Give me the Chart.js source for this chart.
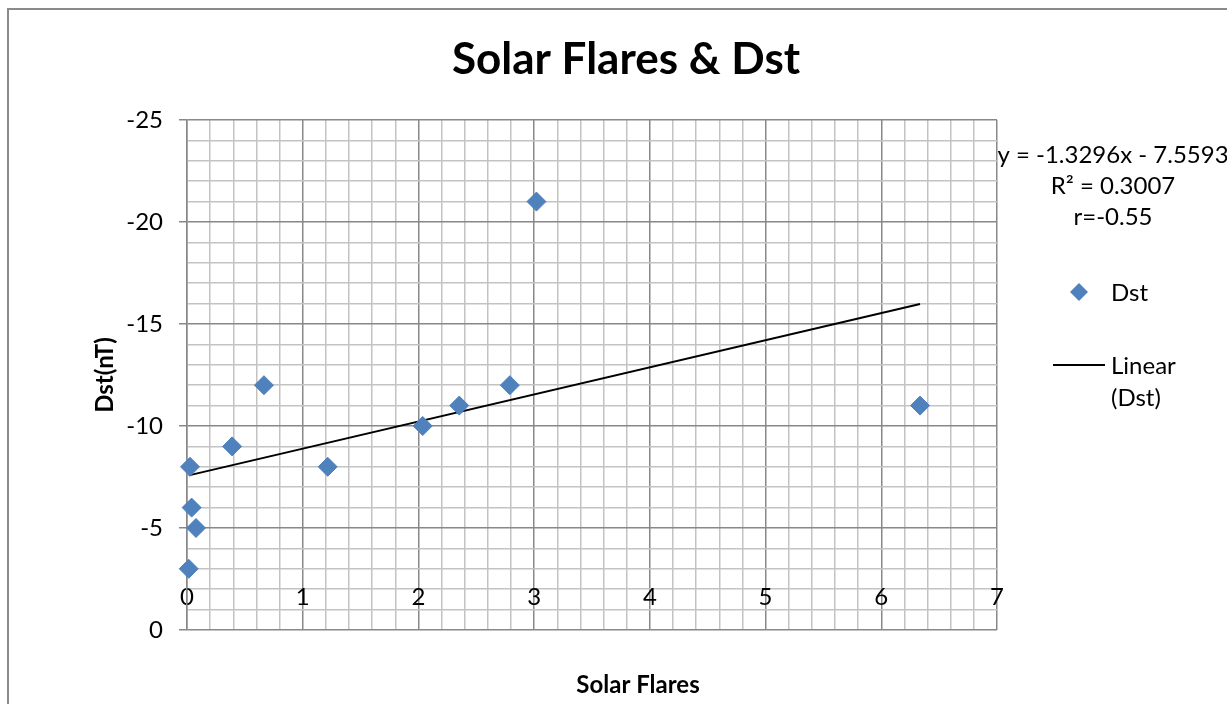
<!DOCTYPE html>
<html>
<head>
<meta charset="utf-8">
<title>Solar Flares & Dst</title>
<script src="https://cdn.jsdelivr.net/npm/chart.js@4.4.1/dist/chart.umd.min.js"></script>
<style>
  html, body { margin: 0; padding: 0; background: #ffffff; }
  #wrap { width: 1227px; height: 704px; position: relative; }
</style>
</head>
<body>
<div id="wrap"><canvas id="c" width="1227" height="704"></canvas></div>
<script>
// Observations: number of solar flares vs. Dst index (nT)
const flares = [0.015, 0.026, 0.04, 0.078, 0.39, 0.665, 1.216, 2.037, 2.353, 2.79, 3.02, 6.335];
const dst    = [-3, -8, -6, -5, -9, -12, -8, -10, -11, -12, -21, -11];

// Least-squares fit as reported on the chart
const fitSlope = -1.3296;
const fitIntercept = -7.5593;
const fitLines = ['y = -1.3296x - 7.5593', 'R\u00B2 = 0.3007', 'r=-0.55'];

// Text
const chartTitle = 'Solar Flares & Dst';
const xTitle = 'Solar Flares';
const yTitle = 'Dst(nT)';
const seriesName = 'Dst';
const trendName = ['Linear', '(Dst)'];

// Axis ranges and ticks
const xRange = [0, 7];
const xMinorStep = 0.2;
const yRange = [-25, 0];
const yMinorStep = 1;
const yMajorStep = 5;
const xAxisCrossesAt = -2;

const FONT = "Lato, 'Open Sans', 'DejaVu Sans', sans-serif";
const BLUE = '#4F81BD';
const MAJOR = '#888888';
const MINOR = '#C3C3C3';

const points = flares.map((x, i) => ({ x, y: dst[i] }));
const xLo = Math.min(...flares), xHi = Math.max(...flares);
const trend = [xLo, xHi].map(x => ({ x, y: fitSlope * x + fitIntercept }));

const isWhole = (v, step) => Math.abs(v / step - Math.round(v / step)) < 1e-6;

const decorations = {
  id: 'decorations',
  beforeDraw(chart) {
    const ctx = chart.ctx;
    ctx.save();
    ctx.fillStyle = '#ffffff';
    ctx.fillRect(0, 0, chart.width, chart.height);
    ctx.strokeStyle = '#8a8a8a';
    ctx.lineWidth = 2;
    ctx.beginPath();
    ctx.moveTo(8, chart.height);
    ctx.lineTo(8, 9);
    ctx.lineTo(chart.width, 9);
    ctx.stroke();
    ctx.restore();
  },
  afterDraw(chart) {
    const ctx = chart.ctx;
    ctx.save();
    ctx.fillStyle = '#000000';
    ctx.textBaseline = 'middle';

    // chart title
    ctx.textAlign = 'center';
    ctx.font = 'bold 44px ' + FONT;
    ctx.fillText(chartTitle, 626, 60);

    // horizontal axis title
    ctx.font = 'bold 24px ' + FONT;
    ctx.fillText(xTitle, 638, 685);

    // trendline equation block
    ctx.font = '24px ' + FONT;
    fitLines.forEach((t, i) => ctx.fillText(t, 1113, 155 + i * 31));

    // legend
    const sc = chart.data.datasets[0];
    ctx.textAlign = 'left';
    ctx.fillStyle = sc.backgroundColor;
    const cx = 1079, cy = 292, r = 9;
    ctx.beginPath();
    ctx.moveTo(cx, cy - r); ctx.lineTo(cx + r, cy); ctx.lineTo(cx, cy + r); ctx.lineTo(cx - r, cy);
    ctx.closePath();
    ctx.fill();
    ctx.fillStyle = '#000000';
    ctx.fillText(seriesName, 1111, 293);

    const tr = chart.data.datasets[1];
    ctx.strokeStyle = tr.borderColor;
    ctx.lineWidth = tr.borderWidth;
    ctx.beginPath();
    ctx.moveTo(1053, 365); ctx.lineTo(1105, 365);
    ctx.stroke();
    trendName.forEach((t, i) => ctx.fillText(t, 1111, 366 + i * 32));
    ctx.restore();
  }
};

new Chart(document.getElementById('c'), {
  type: 'scatter',
  data: {
    datasets: [
      {
        label: seriesName,
        data: points,
        backgroundColor: BLUE,
        borderColor: BLUE,
        borderWidth: 1,
        pointStyle: 'rectRot',
        pointRadius: 9.5,
        pointHoverRadius: 9.5,
        clip: false,
        order: 1
      },
      {
        label: trendName.join(' '),
        type: 'line',
        data: trend,
        showLine: true,
        borderColor: '#000000',
        borderWidth: 2,
        pointRadius: 0,
        fill: false,
        order: 2
      }
    ]
  },
  options: {
    responsive: false,
    animation: false,
    devicePixelRatio: 1,
    layout: { padding: { top: 120, right: 230, bottom: 74, left: 0 } },
    plugins: {
      legend: { display: false },
      tooltip: { enabled: false },
      title: { display: false }
    },
    scales: {
      x: {
        type: 'linear',
        position: { y: xAxisCrossesAt },
        min: xRange[0],
        max: xRange[1],
        border: { display: false },
        grid: {
          color: c => isWhole(c.tick.value, 1) ? MAJOR : MINOR,
          lineWidth: 1.5,
          drawTicks: false
        },
        ticks: {
          stepSize: xMinorStep,
          autoSkip: false,
          maxRotation: 0,
          padding: -6,
          color: '#000000',
          font: { family: FONT, size: 24 },
          callback: v => isWhole(v, 1) ? String(Math.round(v)) : ''
        }
      },
      y: {
        type: 'linear',
        reverse: true,
        min: yRange[0],
        max: yRange[1],
        afterFit: s => { s.width = 187; },
        border: { color: MAJOR, width: 1.5 },
        grid: {
          color: c => isWhole(c.tick.value, yMajorStep) ? MAJOR : MINOR,
          tickColor: c => isWhole(c.tick.value, yMajorStep) ? MAJOR : 'rgba(0,0,0,0)',
          lineWidth: 1.5,
          tickLength: 8
        },
        title: {
          display: true,
          text: yTitle,
          color: '#000000',
          font: { family: FONT, size: 24, weight: 'bold' },
          padding: { top: 91, bottom: 0 }
        },
        ticks: {
          stepSize: yMinorStep,
          autoSkip: false,
          padding: 16,
          color: '#000000',
          font: { family: FONT, size: 24 },
          callback: v => isWhole(v, yMajorStep) ? String(Math.round(v)) : ''
        }
      }
    }
  },
  plugins: [decorations]
});
</script>
</body>
</html>
